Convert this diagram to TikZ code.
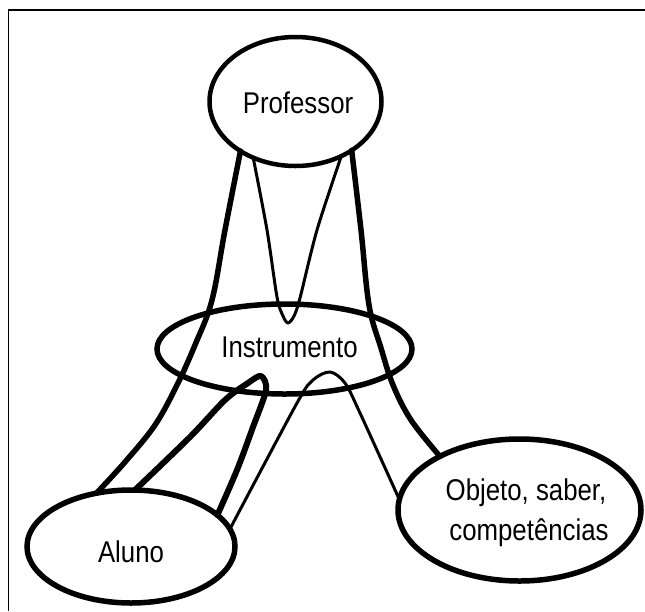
\documentclass[tikz,border=0pt]{standalone}
\usepackage{fontspec}
\setmainfont{Liberation Sans}[FakeStretch=0.86]
\usetikzlibrary{shapes.geometric}
\begin{document}
\begin{tikzpicture}[x=1pt,y=-1pt,
  ell/.style={draw, ellipse, line width=5.5pt, inner sep=0pt, outer sep=0pt},
  lbl/.style={anchor=base, inner sep=0pt, font=\fontsize{30}{36}\selectfont},
  thickcon/.style={line width=5.5pt, line cap=round, line join=round},
  thincon/.style={line width=3pt, line cap=round, line join=round}]
\useasboundingbox (0,0) rectangle (645,611);
\draw[line width=1.6pt] (8.5,611) -- (8.5,10) -- (645,10);
% ellipses
\node[ell, line width=4.5pt, minimum width=172pt, minimum height=129pt] (prof) at (295.5,101.5) {};
\node[ell, minimum width=255pt, minimum height=90pt] (instr) at (284.5,349) {};
\node[ell, minimum width=208pt, minimum height=113pt] (aluno) at (131,546.5) {};
\node[ell, minimum width=243pt, minimum height=142pt] (obj) at (519.5,510) {};
% labels
\node[lbl] (profT) at (298,113) {Professor};
\node[lbl] (instrT) at (289.5,357) {Instrumento};
\node[lbl] (alunoT) at (131,562) {Aluno};
\node[lbl] (objT1) at (526,500.5) {Objeto, saber,};
\node[lbl] (objT2) at (529,540) {competências};
% connectors
\draw[thickcon] plot[smooth, tension=0.6] coordinates {(prof.-138) (225,230) (212,300) (195,345) (177,385) (155,425) (125,462) (aluno.123)};
\draw[thickcon] plot[smooth, tension=0.6] coordinates {(prof.-41) (361,230) (369,305) (381,348) (393,385) (411,420) (obj.146)};
\draw[thincon] plot[smooth, tension=0.5] coordinates {(prof.-127) (267,230) (277,297) (283,316) (288,323) (294,316) (300,298) (317,230) (prof.-50)};
\draw[thickcon, line width=6pt] plot[smooth, tension=0.5] coordinates {(aluno.86) (190,437) (225,400) (248,383) (261,376) (266,390) (253,427) (237,470) (aluno.20)};
\draw[thincon] plot[smooth, tension=0.5] coordinates {(aluno.10) (297,403) (313,380) (330,372) (345,383) (360,413) (obj.175)};
\end{tikzpicture}
\end{document}
